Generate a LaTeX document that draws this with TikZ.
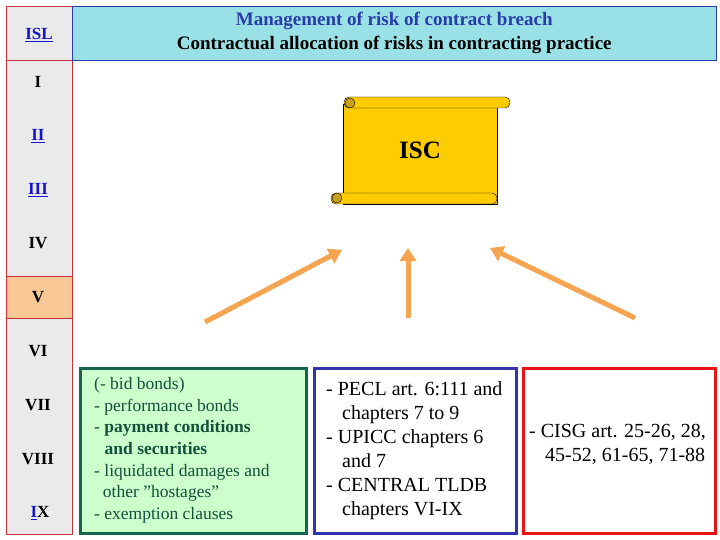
\documentclass[tikz,border=0pt]{standalone}
\usepackage{fontspec}
\setmainfont{Liberation Serif}
\usetikzlibrary{arrows.meta}
\definecolor{sidegray}{RGB}{234,234,234}
\definecolor{sidered}{RGB}{200,50,60}
\definecolor{hdrcyan}{RGB}{153,225,230}
\definecolor{hdrblue}{RGB}{40,60,170}
\definecolor{linkblue}{RGB}{20,20,200}
\definecolor{vorange}{RGB}{250,200,150}
\definecolor{scrollfill}{RGB}{255,204,0}
\definecolor{curl}{RGB}{200,160,30}
\definecolor{arrorange}{RGB}{245,165,80}
\definecolor{gfill}{RGB}{204,255,204}
\definecolor{gborder}{RGB}{20,100,80}
\definecolor{gtext}{RGB}{20,80,60}
\definecolor{bborder}{RGB}{50,50,170}
\definecolor{rborder}{RGB}{230,20,20}
\begin{document}
\begin{tikzpicture}[x=1pt,y=-1pt,
  side/.style={font=\bfseries\fontsize{17}{19}\selectfont},
  lnk/.style={side,text=linkblue},
  bigarrow/.style={draw=arrorange,line width=5pt,-{Triangle[length=13pt,width=16pt]}},
  infobox/.style={line width=3pt,anchor=north west,minimum height=165pt,inner sep=0pt}]
\useasboundingbox (0,0) rectangle (720,540);
% sidebar
\node[draw=sidered,fill=sidegray,anchor=north west,minimum width=66pt,minimum height=528pt,inner sep=0pt] (sb) at (6,6) {};
\node[draw=sidered,fill=vorange,anchor=north west,minimum width=66pt,minimum height=42pt,inner sep=0pt] (vrow) at (6,276) {};
\draw[sidered] (6,60) -- (72,60);
\node[lnk] (isl) at (39,35) {\underline{ISL}};
\node[side] (r1) at (38,82) {I};
\node[lnk] (r2) at (38,136) {\underline{II}};
\node[lnk] (r3) at (38,190) {\underline{III}};
\node[side] (r4) at (38,243) {IV};
\node[side] (r5) at (38,297) {V};
\node[side] (r6) at (38,351) {VI};
\node[side] (r7) at (38,405) {VII};
\node[side] (r8) at (38,459) {VIII};
\node[side] (r9) at (40,513) {\textcolor{linkblue}{\underline{I}}X};
% header
\node[draw=hdrblue,fill=hdrcyan,anchor=north west,minimum width=644pt,minimum height=54pt,inner sep=0pt,align=center,font=\bfseries\fontsize{19}{24}\selectfont] (hdr) at (72,6)
  {\textcolor{hdrblue}{Management of risk of contract breach}\\Contractual allocation of risks in contracting practice};
% scroll
\draw[fill=scrollfill] (343,104) rectangle (497,204);
\draw[fill=scrollfill,rounded corners=5pt] (344,97) rectangle (510,108);
\draw[fill=curl] (350,103) circle (5);
\draw[fill=scrollfill,rounded corners=5pt] (331,193) rectangle (497,204);
\draw[fill=curl] (337,198) circle (5);
\node[font=\bfseries\fontsize{25}{28}\selectfont] (isc) at (420,150) {ISC};
% arrows
\coordinate (a1s) at (205,322); \coordinate (a1e) at (342,250);
\coordinate (a2s) at (408,318); \coordinate (a2e) at (408,248);
\coordinate (a3s) at (635,318); \coordinate (a3e) at (490,248);
\draw[bigarrow] (a1s) -- (a1e);
\draw[bigarrow] (a2s) -- (a2e);
\draw[bigarrow] (a3s) -- (a3e);
% boxes
\node[infobox,draw=gborder,fill=gfill,minimum width=226pt] (gbox) at (79,367) {};
\node[anchor=north west,align=left,text=gtext,font=\fontsize{17.5}{21.7}\selectfont,inner sep=0pt] (gtxt) at (94,377)
{(- bid bonds)\\- performance bonds\\- \textbf{payment conditions}\\\hspace*{0.6em}\textbf{and securities}\\- liquidated damages and\\\hspace*{0.5em}other ”hostages”\\- exemption clauses};
\node[infobox,draw=bborder,fill=white,minimum width=202pt] (bbox) at (313,367) {};
\node[anchor=north west,align=left,font=\fontsize{20}{24}\selectfont,inner sep=0pt] (btxt) at (326,381)
{- PECL art. 6:111 and\\\hspace*{0.8em}chapters 7 to 9\\- UPICC chapters 6\\\hspace*{0.8em}and 7\\- CENTRAL TLDB\\\hspace*{0.8em}chapters VI-IX};
\node[infobox,draw=rborder,fill=white,minimum width=192pt] (rbox) at (522,367) {};
\node[anchor=north west,align=left,font=\fontsize{20}{24}\selectfont,inner sep=0pt] (rtxt) at (529,424)
{- CISG art. 25-26, 28,\\\hspace*{0.8em}45-52, 61-65, 71-88};
\end{tikzpicture}
\end{document}
